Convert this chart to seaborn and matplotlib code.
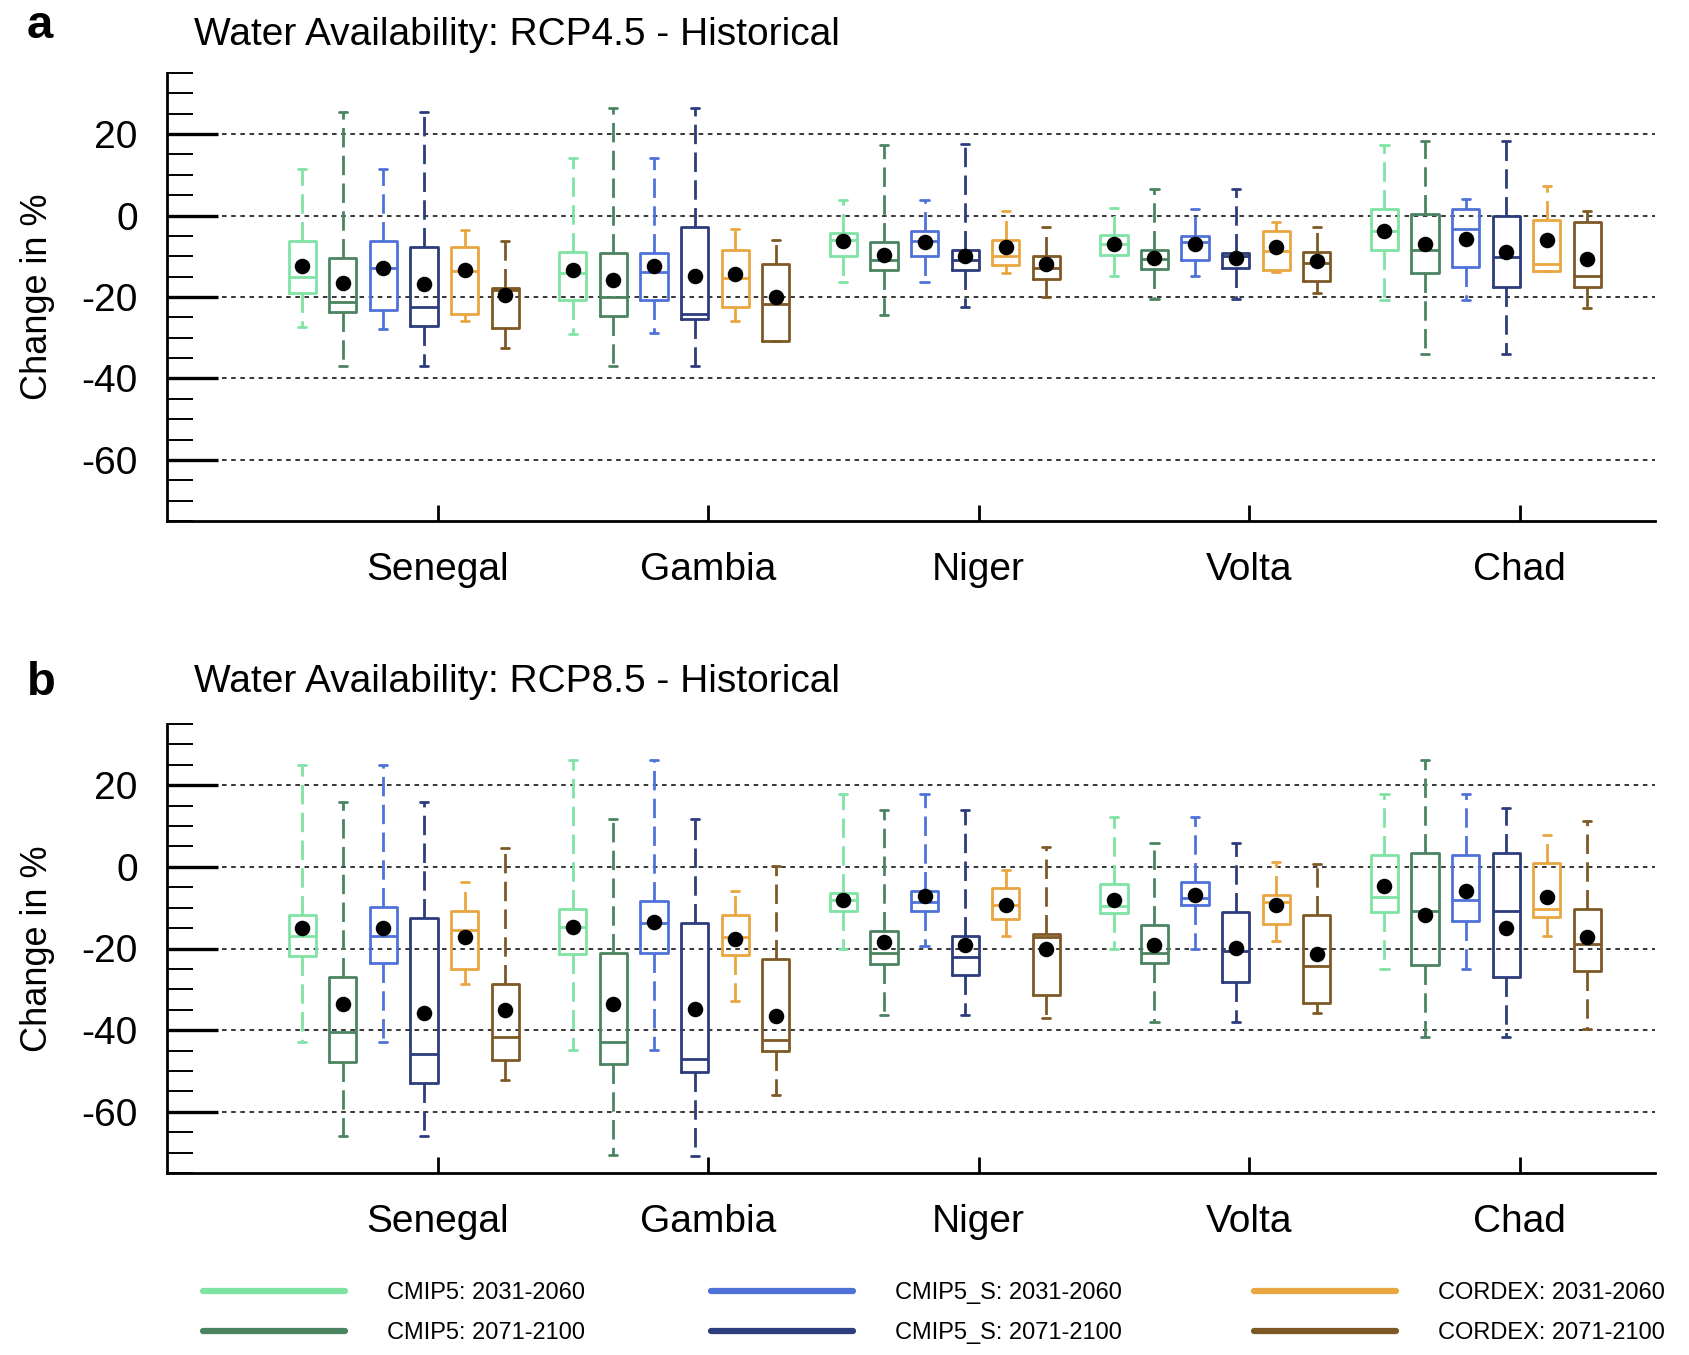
import numpy as np
import pandas as pd
import matplotlib
matplotlib.use('Agg')
import matplotlib.pyplot as plt
import seaborn as sns
from matplotlib.lines import Line2D
from matplotlib.ticker import MultipleLocator

sns.set_style('white')
plt.rcParams['font.family'] = ['Liberation Sans', 'DejaVu Sans']
plt.rcParams['text.color'] = 'black'
plt.rcParams['axes.labelcolor'] = 'black'
plt.rcParams['xtick.color'] = 'black'
plt.rcParams['ytick.color'] = 'black'

basins = ['Senegal', 'Gambia', 'Niger', 'Volta', 'Chad']
series = ['CMIP5: 2031-2060', 'CMIP5: 2071-2100', 'CMIP5_S: 2031-2060',
          'CMIP5_S: 2071-2100', 'CORDEX: 2031-2060', 'CORDEX: 2071-2100']
colors = ['#7fe3a4', '#4b8461', '#4f72d9', '#2c3c7c', '#e9a641', '#7d5a25']

# ---- Panel a: RCP4.5 (rows = series, cols = basins)
whi_a = [[11.5, 14.1, 3.9, 1.9, 17.2],
         [25.4, 26.4, 17.2, 6.4, 18.4],
         [11.5, 14.1, 3.9, 1.7, 4.1],
         [25.4, 26.4, 17.6, 6.4, 18.4],
         [-3.6, -3.2, 1.1, -1.6, 7.2],
         [-6.3, -5.9, -2.9, -2.9, 1.1]]
q3_a = [[-6.3, -8.9, -4.3, -4.8, 1.5],
        [-10.4, -9.3, -6.6, -8.5, 0.4],
        [-6.3, -9.2, -3.9, -5.1, 1.5],
        [-7.8, -2.8, -8.5, -9.2, 0.0],
        [-7.7, -8.5, -6.1, -3.9, -1.1],
        [-17.8, -12.0, -10.0, -8.9, -1.6]]
med_a = [[-15.1, -14.1, -5.9, -7.1, -3.7],
         [-21.2, -20.0, -10.8, -10.7, -8.4],
         [-12.8, -13.9, -6.3, -6.6, -3.3],
         [-22.4, -24.1, -10.8, -10.0, -10.2],
         [-13.7, -15.3, -10.0, -8.8, -12.0],
         [-18.2, -21.6, -12.9, -11.6, -14.8]]
q1_a = [[-19.0, -20.8, -10.0, -9.6, -8.4],
        [-23.6, -24.7, -13.4, -13.1, -14.1],
        [-23.2, -20.8, -10.0, -11.0, -12.6],
        [-27.2, -25.3, -13.4, -13.0, -17.6],
        [-24.1, -22.5, -12.2, -13.4, -13.7],
        [-27.6, -30.7, -15.6, -16.0, -17.6]]
wlo_a = [[-27.4, -29.1, -16.3, -14.8, -20.8],
         [-37.0, -37.0, -24.4, -20.4, -33.9],
         [-27.8, -28.8, -16.3, -14.8, -20.8],
         [-37.0, -37.0, -22.5, -20.5, -33.9],
         [-25.9, -25.9, -14.1, -13.9, -13.7],
         [-32.4, -30.9, -20.1, -19.0, -22.7]]
mean_a = [[-12.5, -13.3, -6.3, -7.1, -3.7],
          [-16.5, -15.8, -9.6, -10.4, -7.0],
          [-12.8, -12.3, -6.5, -6.9, -5.7],
          [-16.9, -14.9, -10.0, -10.4, -9.0],
          [-13.4, -14.3, -7.8, -7.8, -6.1],
          [-19.6, -20.0, -11.8, -11.2, -10.6]]

# ---- Panel b: RCP8.5
whi_b = [[24.9, 26.1, 17.9, 12.3, 17.9],
         [15.8, 11.7, 14.0, 5.8, 26.3],
         [24.9, 26.1, 17.9, 12.3, 17.9],
         [15.8, 11.7, 14.0, 5.8, 14.4],
         [-3.7, -5.8, -0.7, 1.1, 7.8],
         [4.5, 0.2, 4.8, 0.8, 11.3]]
q3_b = [[-11.8, -10.3, -6.3, -4.1, 2.9],
        [-26.9, -21.2, -15.6, -14.2, 3.5],
        [-9.9, -8.4, -6.0, -3.7, 2.9],
        [-12.6, -13.8, -16.9, -11.1, 3.5],
        [-10.9, -11.9, -5.3, -6.8, 1.0],
        [-28.8, -22.6, -16.5, -11.9, -10.3]]
med_b = [[-17.0, -14.8, -8.2, -9.5, -7.4],
         [-40.5, -43.0, -21.0, -21.0, -10.7],
         [-16.9, -13.7, -8.5, -7.7, -8.0],
         [-45.9, -47.1, -22.0, -20.7, -10.7],
         [-15.5, -17.3, -9.3, -8.5, -10.3],
         [-41.6, -42.4, -17.3, -24.3, -18.9]]
q1_b = [[-21.8, -21.4, -10.7, -11.3, -11.1],
        [-47.9, -48.3, -23.7, -23.6, -24.1],
        [-23.6, -21.2, -10.7, -9.3, -13.2],
        [-52.9, -50.2, -26.6, -28.2, -27.0],
        [-24.9, -21.6, -12.8, -14.0, -12.3],
        [-47.2, -45.1, -31.3, -33.3, -25.5]]
wlo_b = [[-42.8, -44.9, -20.0, -20.2, -25.1],
         [-66.0, -70.6, -36.2, -38.1, -41.7],
         [-42.8, -44.9, -19.3, -20.2, -25.1],
         [-66.0, -70.9, -36.2, -38.1, -41.7],
         [-28.6, -32.8, -16.9, -18.1, -17.0],
         [-52.1, -56.0, -37.0, -35.8, -39.8]]
mean_b = [[-15.0, -14.7, -8.0, -8.2, -4.8],
          [-33.6, -33.5, -18.5, -19.2, -11.9],
          [-15.0, -13.6, -7.2, -7.0, -5.8],
          [-35.8, -34.7, -19.1, -19.8, -15.0],
          [-17.1, -17.7, -9.3, -9.3, -7.4],
          [-35.0, -36.5, -20.2, -21.4, -17.3]]

titles = ['Water Availability: RCP4.5 - Historical',
          'Water Availability: RCP8.5 - Historical']
letters = ['a', 'b']

offsets = [-0.5, -0.35, -0.2, -0.05, 0.1, 0.25]


def build(whi, q3, med, q1, wlo, mean):
    rows, mrows = [], []
    for si, s in enumerate(series):
        for bi, b in enumerate(basins):
            pos = round(bi + 1 + offsets[si], 3)
            for v in (wlo[si][bi], q1[si][bi], med[si][bi], q3[si][bi], whi[si][bi]):
                rows.append(dict(pos=pos, series=s, value=v))
            mrows.append(dict(pos=pos, series=s, value=mean[si][bi]))
    return pd.DataFrame(rows), pd.DataFrame(mrows)


W, H = 1690, 1355
fig = plt.figure(figsize=(W / 100, H / 100), dpi=100)
ax_a = fig.add_axes([167 / W, 1 - 521 / H, (1655 - 167) / W, (521 - 73) / H])
ax_b = fig.add_axes([167 / W, 1 - 1173 / H, (1655 - 167) / W, (1173 - 724) / H])

panels = [(ax_a, build(whi_a, q3_a, med_a, q1_a, wlo_a, mean_a)),
          (ax_b, build(whi_b, q3_b, med_b, q1_b, wlo_b, mean_b))]

for i, (ax, (df, dfm)) in enumerate(panels):
    sns.boxplot(data=df, x='pos', y='value', hue='series', hue_order=series,
                palette=colors, saturation=1, native_scale=True, dodge=False,
                fill=False, whis=(0, 100), width=0.67, linewidth=2.0,
                showfliers=False, legend=False, ax=ax,
                whiskerprops={'linestyle': (0, (7, 3))},
                capprops={'gid': 'cap'})
    for ln in ax.lines:
        if ln.get_gid() == 'cap':
            xd = np.asarray(ln.get_xdata(), dtype=float)
            c = xd.mean()
            ln.set_xdata([c - 0.015, c + 0.015])
    sns.scatterplot(data=dfm, x='pos', y='value', color='black', s=125,
                    edgecolor='black', linewidth=0, zorder=6, legend=False, ax=ax)

    ax.set_xlim(0, 5.5)
    ax.set_ylim(-75, 35)
    ax.set_xticks([1, 2, 3, 4, 5])
    ax.set_xticklabels(basins)
    ax.set_yticks([-60, -40, -20, 0, 20])
    ax.set_yticklabels(['-60', '-40', '-20', '0', '20'])
    ax.yaxis.set_minor_locator(MultipleLocator(5))
    ax.set_xlabel('')
    ax.set_ylabel('Change in %', fontsize=26, color='black')
    ax.yaxis.set_label_coords(-0.075, 0.5)
    ax.grid(False)
    for y in [-60, -40, -20, 0, 20]:
        ax.axhline(y, color='black', linestyle=(0, (3, 3)), linewidth=1.1, zorder=0.5)
    ax.tick_params(axis='y', which='major', direction='in', length=37, width=2.4,
                   labelsize=28, pad=21, color='black', labelcolor='black', left=True)
    ax.tick_params(axis='y', which='minor', direction='in', length=19, width=1.4,
                   color='black', left=True)
    ax.tick_params(axis='x', which='major', direction='in', length=11.5, width=2,
                   labelsize=28, pad=22, color='black', labelcolor='black', bottom=True)
    for sp in ['top', 'right']:
        ax.spines[sp].set_visible(False)
    for sp in ['left', 'bottom']:
        ax.spines[sp].set_color('black')
        ax.spines[sp].set_linewidth(2.0)

# titles and panel letters
fig.text(27 / W, 1 - 38 / H, 'a', fontsize=34, fontweight='bold', va='baseline', color='black')
fig.text(194 / W, 1 - 45 / H, titles[0], fontsize=28, va='baseline', color='black')
fig.text(27 / W, 1 - 695 / H, 'b', fontsize=34, fontweight='bold', va='baseline', color='black')
fig.text(194 / W, 1 - 692 / H, titles[1], fontsize=28, va='baseline', color='black')

# legend (three columns)
col_x = [203, 711, 1254]
for k in range(3):
    hs = [Line2D([0], [0], color=colors[2 * k + j], lw=4.5) for j in range(2)]
    fig.legend(hs, series[2 * k:2 * k + 2], loc='center left',
               bbox_to_anchor=(col_x[k] / W, 1 - 1313 / H), frameon=False,
               handlelength=6.0, handletextpad=1.8, fontsize=17,
               labelspacing=0.75, borderpad=0, borderaxespad=0, labelcolor='black')

fig.savefig('out.png', dpi=100, facecolor='white')
